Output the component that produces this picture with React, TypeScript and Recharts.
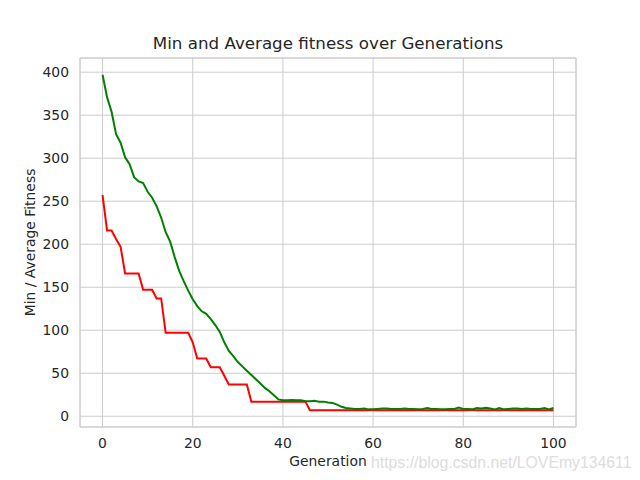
import React from 'react';
import { LineChart, Line, XAxis, YAxis, CartesianGrid, ReferenceArea } from 'recharts';

const generations = [
  0, 1, 2, 3, 4, 5, 6, 7, 8, 9, 10, 11, 12, 13, 14, 15, 16, 17, 18, 19,
  20, 21, 22, 23, 24, 25, 26, 27, 28, 29, 30, 31, 32, 33, 34, 35, 36, 37, 38, 39,
  40, 41, 42, 43, 44, 45, 46, 47, 48, 49, 50, 51, 52, 53, 54, 55, 56, 57, 58, 59,
  60, 61, 62, 63, 64, 65, 66, 67, 68, 69, 70, 71, 72, 73, 74, 75, 76, 77, 78, 79,
  80, 81, 82, 83, 84, 85, 86, 87, 88, 89, 90, 91, 92, 93, 94, 95, 96, 97, 98, 99, 100,
];

const minFitness = [
  257, 216, 216, 206, 197, 166, 166, 166, 166, 147, 147, 147, 137, 137, 97, 97, 97, 97, 97, 97,
  86, 67, 67, 67, 57, 57, 57, 47, 37, 37, 37, 37, 37, 17, 17, 17, 17, 17, 17, 17,
  17, 17, 17, 17, 17, 17, 7, 7, 7, 7, 7, 7, 7, 7, 7, 7, 7, 7, 7, 7,
  7, 7, 7, 7, 7, 7, 7, 7, 7, 7, 7, 7, 7, 7, 7, 7, 7, 7, 7, 7,
  7, 7, 7, 7, 7, 7, 7, 7, 7, 7, 7, 7, 7, 7, 7, 7, 7, 7, 7, 7, 7,
];

const avgFitness = [
  397, 371, 354, 328, 318, 301, 293, 278, 273, 271, 261, 254, 244, 231, 214, 203, 185, 169, 157, 146,
  136, 128, 122, 119, 113, 106, 98, 86, 76, 70, 63, 58, 53, 48, 43, 38, 33, 29, 24.5, 19.6,
  18.5, 18.5, 19, 18.5, 18.5, 17.5, 17.5, 18, 17, 17, 16, 15.5, 13.5, 11, 9.5, 9, 8.5, 8.5, 9, 8,
  8, 8.5, 9, 9, 8.5, 8.5, 8.5, 9, 8.5, 8.5, 8, 8.5, 9.5, 8.5, 8.5, 8, 8, 8.5, 8.5, 10,
  8.5, 8.5, 8, 9.5, 9, 10, 9, 8, 9.5, 8, 8.5, 9, 9, 8.5, 9, 8.5, 8.5, 8.5, 9.5, 8, 9.5,
];

const xTicks = [0, 20, 40, 60, 80, 100];
const yTicks = [0, 50, 100, 150, 200, 250, 300, 350, 400];
const xDomain = [-5, 105];
const yDomain = [-12.5, 416.5];

const data = generations.map((g, i) => ({ gen: g, min: minFitness[i], avg: avgFitness[i] }));

const FONT = 'DejaVu Sans, sans-serif';
const TEXT = '#262626';
const GRID = '#cccccc';

export default function App() {
  return (
    <div style={{ position: 'relative', width: 632, height: 472 }}>
      <LineChart
        width={632}
        height={472}
        data={data}
        margin={{ top: 50, right: 64, bottom: 13, left: 12 }}
      >
        <CartesianGrid stroke={GRID} strokeWidth={1} />
        <XAxis
          dataKey="gen"
          type="number"
          domain={xDomain}
          ticks={xTicks}
          allowDataOverflow
          height={40}
          tickLine={false}
          axisLine={false}
          tickSize={0}
          tickMargin={11.3}
          tick={{ fill: TEXT, fontSize: 13.9, fontFamily: FONT }}
        />
        <YAxis
          type="number"
          domain={yDomain}
          ticks={yTicks}
          allowDataOverflow
          width={60}
          tickLine={false}
          axisLine={false}
          tickSize={0}
          tickMargin={11}
          tick={{ fill: TEXT, fontSize: 13.9, fontFamily: FONT }}
        />
        <ReferenceArea
          x1={xDomain[0]}
          x2={xDomain[1]}
          y1={yDomain[0]}
          y2={yDomain[1]}
          fill="none"
          fillOpacity={0}
          stroke={GRID}
          strokeWidth={1}
          ifOverflow="visible"
        />
        <Line
          type="linear"
          dataKey="min"
          stroke="#ff0000"
          strokeWidth={2}
          dot={false}
          isAnimationActive={false}
        />
        <Line
          type="linear"
          dataKey="avg"
          stroke="#008000"
          strokeWidth={2}
          dot={false}
          isAnimationActive={false}
        />
      </LineChart>
      <svg
        width={632}
        height={472}
        style={{ position: 'absolute', left: 0, top: 0, pointerEvents: 'none' }}
      >
        <text x={320} y={41} textAnchor="middle" fontFamily={FONT} fontSize={16.7} fill={TEXT}>
          Min and Average fitness over Generations
        </text>
        <text x={320} y={458} textAnchor="middle" fontFamily={FONT} fontSize={13.9} fill={TEXT}>
          Generation
        </text>
        <text
          x={26.5}
          y={234.5}
          textAnchor="middle"
          fontFamily={FONT}
          fontSize={13.9}
          fill={TEXT}
          transform="rotate(-90, 26.5, 234.5)"
        >
          Min / Average Fitness
        </text>
        <text x={363} y={460} fontFamily="Liberation Sans, Arial, sans-serif" fontSize={15.8} fill="#dddddd">
          https://blog.csdn.net/LOVEmy134611
        </text>
      </svg>
    </div>
  );
}
